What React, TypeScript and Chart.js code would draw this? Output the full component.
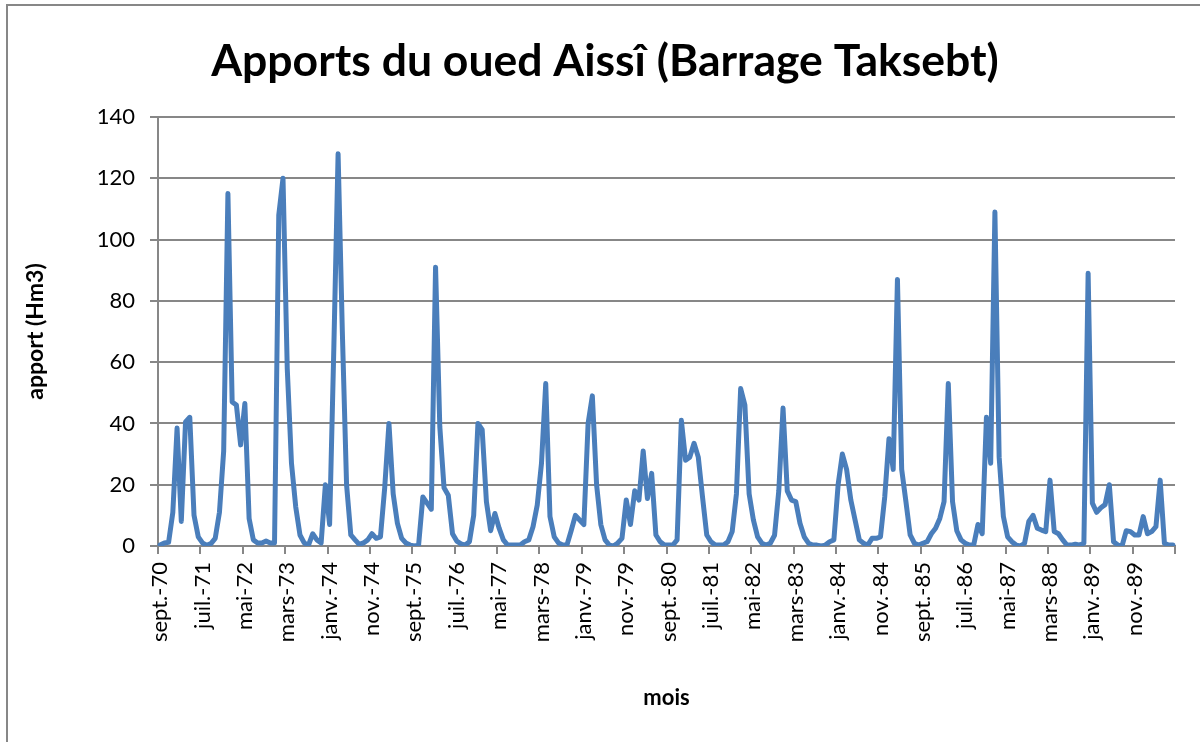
import React, { useEffect, useRef } from 'react';
import { Chart, registerables } from 'chart.js';

Chart.register(...registerables);

// ---- data ----
const MONTHS = ['janv.', 'févr.', 'mars', 'avr.', 'mai', 'juin', 'juil.', 'août', 'sept.', 'oct.', 'nov.', 'déc.'];
const START_YEAR = 1970;
const START_MONTH = 8; // septembre
const LABEL_EVERY = 10;

// apports mensuels (Hm3), sept. 1970 -> août 1990 (une ligne = une année hydrologique)
const APPORTS = [
  0.3, 1, 1.2, 11, 38.5, 8, 40.5, 42, 10, 3, 1, 0.2,
  0.8, 2.5, 11, 31, 115, 47, 46, 33, 46.5, 9, 2, 1,
  1, 1.6, 1, 1, 108, 120, 58, 27, 12.8, 3.6, 1, 0.2,
  4, 2, 1, 20, 7, 65, 128, 70, 20, 3.6, 2, 0.5,
  1, 2, 4, 2.5, 3, 19, 40, 17, 7.4, 2.5, 1, 0.3,
  0, 0.3, 16, 14, 12, 91, 39, 19, 16.6, 4, 1.6, 0.7,
  0.3, 1.4, 10, 40, 38, 14.5, 5, 10.6, 5.8, 2, 0.3, 0.3,
  0.3, 0.3, 1.4, 2, 6.3, 13.4, 27, 53, 9.6, 3, 1, 0.3,
  0.3, 5, 10, 8.5, 7, 40, 49, 20, 7, 2, 0.3, 0,
  1, 2.5, 15, 7, 18, 15, 31, 15.5, 23.7, 3.6, 1.4, 0.3,
  0.3, 0.3, 2, 41, 28, 29, 33.5, 29, 16, 3.6, 1.4, 0.3,
  0.3, 0.3, 1.4, 4.7, 17, 51.4, 46, 17, 8.5, 3, 0.9, 0.3,
  0.9, 3.5, 18, 45, 18, 15, 14.5, 7.4, 3, 0.9, 0.3, 0.3,
  0, 0.3, 1.4, 2, 20, 30, 25, 15, 8.5, 2, 0.9, 0.3,
  2.5, 2.5, 3, 16, 35, 25, 87, 25, 14.5, 3.6, 0.9, 0.3,
  0.9, 1.4, 4, 5.8, 9, 14.5, 53, 14.5, 5, 2, 0.9, 0.3,
  0.3, 7, 4, 42, 27, 109, 29, 9.6, 3, 1.4, 0.3, 0,
  0.9, 8, 10, 5.8, 5.2, 4.7, 21.5, 4.7, 4, 2, 0.3, 0.3,
  0.6, 0.3, 0.9, 89, 14, 11, 12.5, 13.5, 20, 1.4, 0.3, 0,
  5, 4.7, 3.6, 3.6, 9.6, 4, 4.7, 6.3, 21.5, 0.9, 0.3, 0.3,
];

const Y_MIN = 0;
const Y_MAX = 140;
const Y_STEP = 20;

const TITLE = 'Apports du oued Aissî (Barrage Taksebt)';
const Y_TITLE = 'apport (Hm3)';
const X_TITLE = 'mois';

const LABELS = APPORTS.map((_, i) => {
  const m = (START_MONTH + i) % 12;
  const y = START_YEAR + Math.floor((START_MONTH + i) / 12);
  return `${MONTHS[m]}-${String(y % 100).padStart(2, '0')}`;
});

const FONT = 'Lato, "Open Sans", sans-serif';
const GRID = '#878787';
const LINE = '#4A7EBB';

const titlePlugin = {
  id: 'excelTitle',
  afterDraw(chart: any) {
    const ctx = chart.ctx;
    ctx.save();
    ctx.font = `bold 44.5px ${FONT}`;
    ctx.fillStyle = '#000';
    ctx.textAlign = 'center';
    ctx.textBaseline = 'alphabetic';
    ctx.fillText(TITLE, 605, 76);
    ctx.restore();
  },
};

export default function App() {
  const ref = useRef<HTMLCanvasElement | null>(null);

  useEffect(() => {
    if (!ref.current) return;
    const chart = new Chart(ref.current, {
      type: 'line',
      data: {
        labels: LABELS,
        datasets: [
          {
            data: APPORTS,
            borderColor: LINE,
            backgroundColor: LINE,
            borderWidth: 5,
            pointRadius: 0,
            tension: 0,
            fill: false,
            borderJoinStyle: 'round',
            borderCapStyle: 'round',
          },
        ],
      },
      options: {
        responsive: false,
        animation: false,
        layout: { padding: { left: 0, right: 25, top: 117, bottom: 0 } },
        plugins: {
          legend: { display: false },
          tooltip: { enabled: false },
          title: { display: false },
        },
        scales: {
          x: {
            type: 'category',
            offset: true,
            grid: {
              offset: true,
              drawOnChartArea: false,
              drawTicks: true,
              tickLength: 8,
              lineWidth: 2,
              color: (ctx: any) =>
                ctx.type === 'tick' ? (ctx.index % LABEL_EVERY === 0 ? GRID : 'rgba(0,0,0,0)') : GRID,
            },
            border: { display: true, color: GRID, width: 2 },
            ticks: {
              autoSkip: false,
              maxRotation: 90,
              minRotation: 90,
              padding: 8,
              color: '#000',
              font: { family: FONT, size: 22 },
              callback: (_v: any, i: number) => (i % LABEL_EVERY === 0 ? LABELS[i] : ''),
            },
            title: {
              display: true,
              text: X_TITLE,
              color: '#000',
              font: { family: FONT, size: 22, weight: 'bold' },
              padding: { top: 0, bottom: 31 },
            },
            afterFit: (s: any) => {
              s.height = 196;
              s.paddingLeft = 0;
              s.paddingRight = 0;
            },
          },
          y: {
            min: Y_MIN,
            max: Y_MAX,
            ticks: {
              stepSize: Y_STEP,
              padding: 15,
              color: '#000',
              font: { family: FONT, size: 22 },
            },
            grid: { color: GRID, lineWidth: 2, tickLength: 8 },
            border: { display: true, color: GRID, width: 2 },
            title: {
              display: true,
              text: Y_TITLE,
              color: '#000',
              font: { family: FONT, size: 23, weight: 'bold' },
              padding: { top: 22, bottom: 0 },
            },
            afterFit: (s: any) => {
              s.width = 158;
              s.paddingTop = 0;
              s.paddingBottom = 0;
            },
          },
        },
      } as any,
      plugins: [titlePlugin],
    });
    return () => chart.destroy();
  }, []);

  return (
    <div style={{ position: 'fixed', left: 0, top: 0, width: 1200, height: 742, overflow: 'hidden', background: '#fff' }}>
      <canvas ref={ref} width={1200} height={742} style={{ position: 'absolute', left: 0, top: 0, width: 1200, height: 742 }} />
      <div
        style={{
          position: 'absolute',
          left: 6,
          top: 4,
          width: 1400,
          height: 1000,
          border: `2px solid ${GRID}`,
          boxSizing: 'border-box',
          pointerEvents: 'none',
        }}
      />
    </div>
  );
}
